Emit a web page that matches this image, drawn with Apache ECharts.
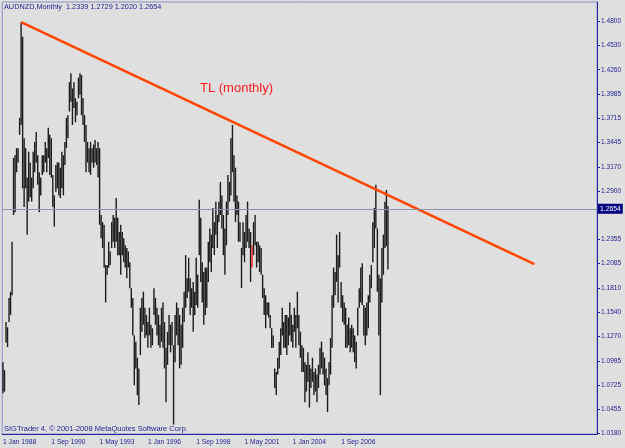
<!DOCTYPE html>
<html>
<head>
<meta charset="utf-8">
<script src="https://cdn.jsdelivr.net/npm/echarts@6/dist/echarts.min.js"></script>
<style>
  html, body { margin: 0; padding: 0; background: #dfdfdf; }
  #chart { width: 625px; height: 448px; }
</style>
</head>
<body>
<div id="chart"></div>
<script>
// AUDNZD monthly bars, Jan 1988 .. Apr 2009
const symbolName = 'AUDNZD,Monthly';
const lastBar = [1.2339, 1.2729, 1.2020, 1.2654]; // open high low close
const markedBar = 165; // the one bar drawn in red

const barHighs = [
  1.098, 1.089, 1.143, 1.137, 1.170, 1.177, 1.233, 1.327, 1.330, 1.338,
  1.338, 1.372, 1.479, 1.463, 1.349, 1.338, 1.305, 1.334, 1.322, 1.305,
  1.334, 1.345, 1.356, 1.330, 1.311, 1.305, 1.330, 1.330, 1.345, 1.338,
  1.361, 1.353, 1.349, 1.308, 1.285, 1.319, 1.322, 1.322, 1.316, 1.334,
  1.330, 1.345, 1.372, 1.375, 1.412, 1.422, 1.405, 1.412, 1.394, 1.390,
  1.417, 1.422, 1.420, 1.394, 1.375, 1.364, 1.345, 1.338, 1.345, 1.338,
  1.342, 1.347, 1.338, 1.345, 1.338, 1.263, 1.255, 1.252, 1.207, 1.207,
  1.233, 1.222, 1.255, 1.263, 1.260, 1.282, 1.260, 1.244, 1.252, 1.244,
  1.237, 1.229, 1.226, 1.222, 1.210, 1.181, 1.170, 1.128, 1.121, 1.103,
  1.091, 1.159, 1.170, 1.177, 1.159, 1.151, 1.143, 1.159, 1.140, 1.136,
  1.181, 1.170, 1.159, 1.151, 1.140, 1.159, 1.165, 1.143, 1.114, 1.132,
  1.151, 1.140, 1.143, 1.117, 1.151, 1.165, 1.159, 1.151, 1.140, 1.159,
  1.177, 1.218, 1.192, 1.215, 1.192, 1.181, 1.188, 1.177, 1.215, 1.196,
  1.280, 1.260, 1.210, 1.199, 1.204, 1.204, 1.233, 1.248, 1.241, 1.271,
  1.255, 1.278, 1.263, 1.278, 1.300, 1.285, 1.263, 1.248, 1.278, 1.308,
  1.300, 1.349, 1.364, 1.330, 1.316, 1.285, 1.278, 1.255, 1.226, 1.255,
  1.244, 1.263, 1.278, 1.248, 1.244, 1.229, 1.255, 1.263, 1.233, 1.233,
  1.229, 1.226, 1.196, 1.181, 1.173, 1.165, 1.165, 1.151, 1.136, 1.128,
  1.091, 1.087, 1.103, 1.121, 1.136, 1.159, 1.143, 1.151, 1.151, 1.148,
  1.165, 1.151, 1.140, 1.159, 1.151, 1.177, 1.151, 1.132, 1.117, 1.114,
  1.098, 1.095, 1.109, 1.095, 1.091, 1.103, 1.087, 1.091, 1.084, 1.095,
  1.114, 1.121, 1.109, 1.103, 1.091, 1.080, 1.098, 1.125, 1.173, 1.204,
  1.199, 1.241, 1.218, 1.244, 1.188, 1.173, 1.165, 1.159, 1.140, 1.148,
  1.136, 1.140, 1.136, 1.128, 1.121, 1.159, 1.181, 1.204, 1.209, 1.162,
  1.159, 1.165, 1.173, 1.196, 1.207, 1.255, 1.271, 1.297, 1.248, 1.196,
  1.192, 1.226, 1.241, 1.278, 1.291, 1.2729
];

const barLows = [
  1.063, 1.065, 1.120, 1.115, 1.143, 1.151, 1.173, 1.263, 1.266, 1.311,
  1.322, 1.353, 1.364, 1.293, 1.272, 1.293, 1.241, 1.278, 1.283, 1.278,
  1.293, 1.311, 1.322, 1.297, 1.266, 1.285, 1.308, 1.311, 1.322, 1.311,
  1.327, 1.308, 1.305, 1.272, 1.250, 1.289, 1.293, 1.285, 1.282, 1.293,
  1.285, 1.319, 1.338, 1.349, 1.379, 1.390, 1.364, 1.383, 1.367, 1.375,
  1.394, 1.398, 1.375, 1.364, 1.345, 1.311, 1.322, 1.311, 1.308, 1.322,
  1.316, 1.322, 1.319, 1.305, 1.252, 1.237, 1.226, 1.204, 1.165, 1.196,
  1.204, 1.207, 1.226, 1.233, 1.226, 1.233, 1.218, 1.218, 1.196, 1.218,
  1.210, 1.204, 1.192, 1.204, 1.181, 1.159, 1.128, 1.072, 1.091, 1.061,
  1.050, 1.106, 1.132, 1.140, 1.125, 1.128, 1.114, 1.128, 1.114, 1.117,
  1.151, 1.140, 1.128, 1.117, 1.114, 1.121, 1.114, 1.091, 1.053, 1.095,
  1.117, 1.109, 1.117, 1.028, 1.098, 1.128, 1.117, 1.091, 1.095, 1.114,
  1.143, 1.159, 1.170, 1.177, 1.151, 1.159, 1.132, 1.151, 1.162, 1.159,
  1.218, 1.188, 1.165, 1.140, 1.151, 1.159, 1.188, 1.210, 1.199, 1.226,
  1.218, 1.241, 1.226, 1.255, 1.263, 1.248, 1.218, 1.196, 1.229, 1.263,
  1.278, 1.285, 1.311, 1.278, 1.255, 1.263, 1.233, 1.233, 1.181, 1.218,
  1.210, 1.226, 1.233, 1.226, 1.188, 1.204, 1.218, 1.229, 1.204, 1.210,
  1.199, 1.196, 1.170, 1.151, 1.136, 1.151, 1.148, 1.136, 1.114, 1.114,
  1.069, 1.061, 1.084, 1.091, 1.106, 1.128, 1.114, 1.114, 1.106, 1.117,
  1.128, 1.121, 1.114, 1.132, 1.114, 1.136, 1.117, 1.103, 1.087, 1.087,
  1.053, 1.065, 1.076, 1.047, 1.069, 1.076, 1.061, 1.065, 1.053, 1.069,
  1.084, 1.091, 1.084, 1.072, 1.061, 1.042, 1.072, 1.084, 1.114, 1.159,
  1.173, 1.188, 1.165, 1.204, 1.159, 1.143, 1.140, 1.114, 1.114, 1.117,
  1.109, 1.114, 1.109, 1.098, 1.091, 1.128, 1.159, 1.165, 1.162, 1.128,
  1.117, 1.128, 1.136, 1.165, 1.181, 1.210, 1.226, 1.248, 1.177, 1.128,
  1.061, 1.165, 1.196, 1.226, 1.228, 1.2020
];

// trend line drawn on the chart: [bar index, price]
const trendLine = [[12, 1.4794], [352, 1.2080]];

const yTickLabels = ['1.4800', '1.4530', '1.4260', '1.3985', '1.3715', '1.3445',
  '1.3170', '1.2900', '1.2355', '1.2085', '1.1810', '1.1540', '1.1270',
  '1.0995', '1.0725', '1.0455', '1.0180'];
const xTickLabels = ['1 Jan 1988', '1 Sep 1990', '1 May 1993', '1 Jan 1996',
  '1 Sep 1998', '1 May 2001', '1 Jan 2004', '1 Sep 2006'];

const monthNames = ['Jan', 'Feb', 'Mar', 'Apr', 'May', 'Jun', 'Jul', 'Aug', 'Sep', 'Oct', 'Nov', 'Dec'];
const slotCount = 394; // chart leaves empty space on the right
const categories = [];
for (let i = 0; i < slotCount; i++) {
  categories.push('1 ' + monthNames[i % 12] + ' ' + (1988 + Math.floor(i / 12)));
}

const barData = barHighs.map((h, i) => [i, barLows[i], h]);

const navy = '#1f1f94';
const font = 'Liberation Sans, Arial, sans-serif';

function renderBar(params, api) {
  const top = api.coord([api.value(0), api.value(2)]);
  const bottom = api.coord([api.value(0), api.value(1)]);
  return {
    type: 'line',
    shape: { x1: top[0], y1: top[1], x2: bottom[0], y2: bottom[1] },
    style: { stroke: api.value(0) === markedBar ? '#ff2020' : '#1c1c1c', lineWidth: 1.4 }
  };
}

const chart = echarts.init(document.getElementById('chart'));
chart.setOption({
  animation: false,
  backgroundColor: '#dfdfdf',
  textStyle: { fontFamily: font },
  grid: { left: 2, right: 28, top: 2, bottom: 14, show: true, borderColor: '#8e8ec8', borderWidth: 1 },
  xAxis: {
    type: 'category',
    data: categories,
    boundaryGap: true,
    axisLine: { lineStyle: { color: '#2424a0', width: 1 } },
    axisTick: {
      alignWithLabel: true, length: 3,
      interval: (i, v) => xTickLabels.includes(v),
      lineStyle: { color: '#2424a0' }
    },
    axisLabel: {
      interval: (i, v) => xTickLabels.includes(v),
      align: 'left', margin: 5,
      fontSize: 6.7, color: navy, fontFamily: font
    },
    splitLine: { show: false }
  },
  yAxis: {
    type: 'value',
    position: 'right',
    min: 1.0174,
    max: 1.5019,
    axisLine: { show: true, lineStyle: { color: '#2424a0', width: 1 } },
    axisTick: { show: true, length: 3, customValues: yTickLabels.map(Number), lineStyle: { color: '#2424a0' } },
    axisLabel: {
      customValues: yTickLabels.map(Number),
      formatter: v => v.toFixed(4),
      margin: 4, fontSize: 6.6, color: navy, fontFamily: font
    },
    splitLine: { show: false }
  },
  series: [
    {
      type: 'custom',
      renderItem: renderBar,
      data: barData,
      encode: { x: 0, y: [1, 2] },
      silent: true,
      markLine: {
        silent: true,
        symbol: 'none',
        animation: false,
        lineStyle: { color: '#8797a8', width: 1, type: 'solid' },
        label: {
          position: 'end', distance: 1,
          formatter: lastBar[3].toFixed(4),
          backgroundColor: '#000080', color: '#ffffff',
          fontSize: 6.8, fontFamily: font, padding: [2, 2, 1, 2]
        },
        data: [{ yAxis: lastBar[3] }]
      }
    },
    {
      type: 'line',
      data: trendLine,
      showSymbol: false,
      silent: true,
      lineStyle: { color: '#ff4500', width: 2.6 },
      z: 3
    }
  ],
  graphic: [
    {
      type: 'text', left: 4, top: 3,
      style: {
        text: symbolName + '  ' + lastBar.map(v => v.toFixed(4)).join(' '),
        fill: navy, font: '7.3px ' + font
      }
    },
    {
      type: 'text', left: 200, top: 82,
      style: { text: 'TL (monthly)', fill: '#ff1a1a', font: '13px ' + font }
    },
    {
      type: 'text', left: 4, top: 425,
      style: { text: 'SIGTrader 4, \u00a9 2001-2008 MetaQuotes Software Corp.', fill: navy, font: '7.5px ' + font }
    }
  ]
});
</script>
</body>
</html>
